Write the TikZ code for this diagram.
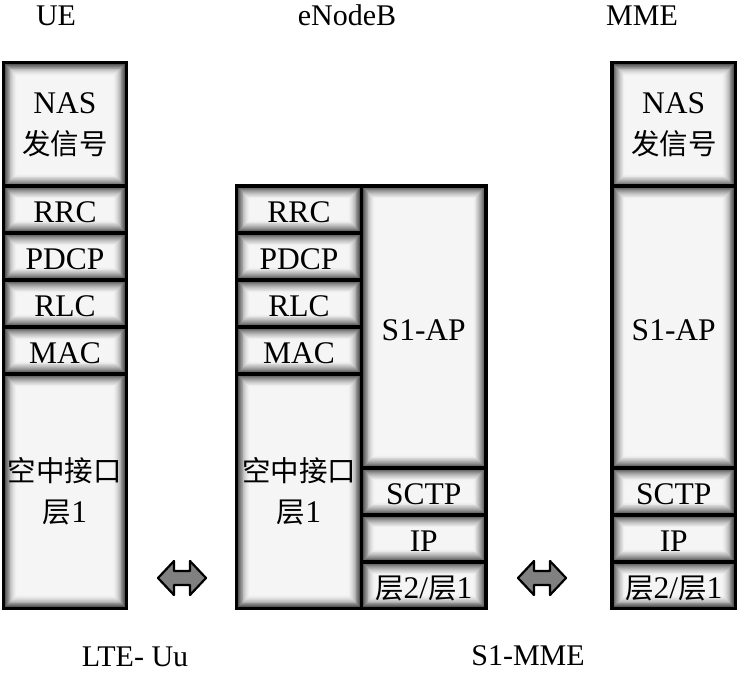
\documentclass[tikz,border=0pt]{standalone}
\usepackage{fontspec}
\setmainfont{Liberation Serif}
\newfontfamily\cjk{Noto Sans CJK SC}
\newcommand{\zh}[1]{{\cjk\fontsize{28.5}{40}\selectfont #1}}
\newcommand{\dn}[1]{\raisebox{-3pt}[\height][\depth]{#1}}
\begin{document}
\begin{tikzpicture}[x=1pt,y=-1pt,
  glow/.style={path picture={
    \foreach \k [evaluate=\k as \ins using 1.5+0.9*\k,
                 evaluate=\k as \shd using 62*(1-\k/13)^1.7+4] in {0,...,13}{
      \fill[black!\shd] ([xshift=\ins pt,yshift=-\ins pt]path picture bounding box.north west)
        rectangle ([xshift=-\ins pt,yshift=\ins pt]path picture bounding box.south east);
    }}},
  cell/.style={draw=black, line width=3.5pt, glow, inner sep=0pt, align=center,
    font=\fontsize{31.5}{41}\selectfont},
  lab/.style={anchor=base, inner sep=1pt, font=\fontsize{30}{34}\selectfont},
  dbl/.style={draw=black, line width=2.2pt, fill=black!50, line join=round}
]
\useasboundingbox (0,0) rectangle (739,673);

% UE column
\node[cell, minimum width=123, minimum height=124.5] (ue-nas) at (65,124.75) {NAS\\\zh{发信号}};
\node[cell, minimum width=123, minimum height=47] (ue-rrc) at (65,209.5) {\dn{RRC}};
\node[cell, minimum width=123, minimum height=47] (ue-pdcp) at (65,256.5) {\dn{PDCP}};
\node[cell, minimum width=123, minimum height=47] (ue-rlc) at (65,303.5) {\dn{RLC}};
\node[cell, minimum width=123, minimum height=47] (ue-mac) at (65,350.5) {\dn{MAC}};
\node[cell, minimum width=123, minimum height=234.5] (ue-phy) at (65,491.25) {\zh{空中接口}\\\zh{层}1};

% eNodeB left column
\node[cell, minimum width=125, minimum height=47] (enb-rrc) at (299,209.5) {\dn{RRC}};
\node[cell, minimum width=125, minimum height=47] (enb-pdcp) at (299,256.5) {\dn{PDCP}};
\node[cell, minimum width=125, minimum height=47] (enb-rlc) at (299,303.5) {\dn{RLC}};
\node[cell, minimum width=125, minimum height=47] (enb-mac) at (299,350.5) {\dn{MAC}};
\node[cell, minimum width=125, minimum height=234.5] (enb-phy) at (299,491.25) {\zh{空中接口}\\\zh{层}1};

% eNodeB right column
\node[cell, minimum width=124.5, minimum height=282] (enb-s1ap) at (423.75,327) {\dn{S1-AP}};
\node[cell, minimum width=124.5, minimum height=47] (enb-sctp) at (423.75,491.5) {\dn{SCTP}};
\node[cell, minimum width=124.5, minimum height=47] (enb-ip) at (423.75,538.5) {\dn{IP}};
\node[cell, minimum width=124.5, minimum height=46.5] (enb-l2) at (423.75,585.25) {\dn{\zh{层}2/\zh{层}1}};

% MME column
\node[cell, minimum width=123.5, minimum height=124.5] (mme-nas) at (673.75,124.75) {NAS\\\zh{发信号}};
\node[cell, minimum width=123.5, minimum height=282] (mme-s1ap) at (673.75,327) {\dn{S1-AP}};
\node[cell, minimum width=123.5, minimum height=47] (mme-sctp) at (673.75,491.5) {\dn{SCTP}};
\node[cell, minimum width=123.5, minimum height=47] (mme-ip) at (673.75,538.5) {\dn{IP}};
\node[cell, minimum width=123.5, minimum height=46.5] (mme-l2) at (673.75,585.25) {\dn{\zh{层}2/\zh{层}1}};

% titles
\node[lab] (t-ue) at (56,25) {UE};
\node[lab] (t-enb) at (347,25) {eNodeB};
\node[lab] (t-mme) at (642,25) {MME};
\node[lab] (t-uu) at (135,666) {LTE- Uu};
\node[lab] (t-s1) at (528,665) {S1-MME};

% double arrows
\foreach \cx in {182,542}{
  \draw[dbl] (\cx-24,578) -- (\cx-8,561) -- (\cx-8,571) -- (\cx+8,571) -- (\cx+8,561)
    -- (\cx+24,578) -- (\cx+8,595) -- (\cx+8,585) -- (\cx-8,585) -- (\cx-8,595) -- cycle;
}
\end{tikzpicture}
\end{document}
